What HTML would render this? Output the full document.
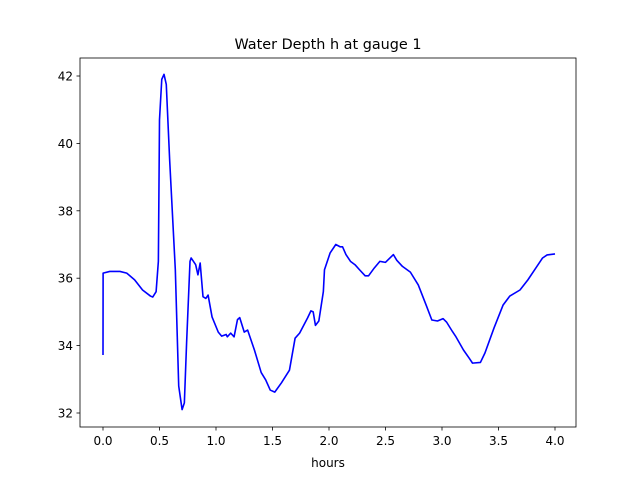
<!DOCTYPE html>
<html><head><meta charset="utf-8"><style>
body{margin:0;background:#fff;}
svg text{font-family:"DejaVu Sans","Liberation Sans",sans-serif;}
</style></head><body>
<svg width="640" height="480" xmlns="http://www.w3.org/2000/svg">
<rect width="640" height="480" fill="#fff"/>
<text x="328" y="49" font-size="14.4" text-anchor="middle">Water Depth h at gauge 1</text>
<g id="ticks"></g>
<path id="line" fill="none" stroke="#0000ff" stroke-width="1.6" stroke-linejoin="round"/>
<rect x="80" y="58" width="496" height="369" fill="none" stroke="#000" stroke-width="0.8"/>
<text x="328" y="467" font-size="12" text-anchor="middle">hours</text>
</svg>
<script>
const hours=[0,0.001,0.06,0.15,0.21,0.28,0.35,0.42,0.44,0.47,0.49,0.50,0.52,0.54,0.56,0.59,0.64,0.67,0.70,0.72,0.74,0.77,0.78,0.82,0.84,0.86,0.885,0.91,0.93,0.965,1.02,1.05,1.09,1.10,1.13,1.16,1.19,1.21,1.25,1.28,1.34,1.40,1.44,1.48,1.52,1.58,1.65,1.70,1.74,1.81,1.84,1.86,1.88,1.91,1.95,1.96,2.01,2.06,2.10,2.12,2.15,2.19,2.23,2.27,2.32,2.35,2.40,2.45,2.50,2.57,2.60,2.65,2.72,2.79,2.86,2.91,2.96,3.01,3.04,3.09,3.12,3.19,3.24,3.27,3.34,3.38,3.46,3.54,3.60,3.69,3.76,3.83,3.89,3.93,4.0];
const depth=[33.72,36.15,36.2,36.2,36.15,35.95,35.65,35.47,35.44,35.6,36.5,40.7,41.9,42.05,41.75,39.5,36.25,32.8,32.1,32.3,34.1,36.5,36.6,36.4,36.1,36.45,35.45,35.4,35.5,34.85,34.4,34.28,34.33,34.26,34.37,34.26,34.77,34.83,34.4,34.46,33.87,33.2,32.98,32.68,32.62,32.9,33.27,34.22,34.37,34.82,35.03,35.0,34.6,34.73,35.6,36.25,36.75,37.0,36.93,36.93,36.7,36.5,36.4,36.25,36.07,36.07,36.3,36.5,36.47,36.7,36.53,36.35,36.18,35.8,35.2,34.76,34.73,34.8,34.7,34.43,34.28,33.87,33.63,33.48,33.5,33.78,34.52,35.2,35.47,35.65,35.95,36.3,36.6,36.69,36.72];
const xTicks=[0.0,0.5,1.0,1.5,2.0,2.5,3.0,3.5,4.0];
const yTicks=[32,34,36,38,40,42];
const xs=v=>103+v*113;
const ys=v=>413-(v-32)*33.7;
const NS="http://www.w3.org/2000/svg";
const g=document.getElementById('ticks');
function mk(tag,attrs){const e=document.createElementNS(NS,tag);for(const k in attrs)e.setAttribute(k,attrs[k]);g.appendChild(e);return e;}
xTicks.forEach(t=>{
 const l=mk('line',{x1:xs(t),x2:xs(t),y1:427,y2:430.5,stroke:'#000','stroke-width':0.8});
 
 
 const tx=mk('text',{x:xs(t),y:445,'font-size':12,'text-anchor':'middle'});
 tx.textContent=t.toFixed(1);
 
 
});
yTicks.forEach(t=>{
 const l=mk('line',{x1:76.5,x2:80,y1:ys(t),y2:ys(t),stroke:'#000','stroke-width':0.8});
 
 
 const tx=mk('text',{x:73,y:ys(t)+4.5,'font-size':12,'text-anchor':'end'});
 tx.textContent=t;
 
 
});
document.getElementById('line').setAttribute('d',hours.map((h,i)=>(i?'L':'M')+xs(h).toFixed(2)+','+ys(depth[i]).toFixed(2)).join(''));
</script>
</body></html>
